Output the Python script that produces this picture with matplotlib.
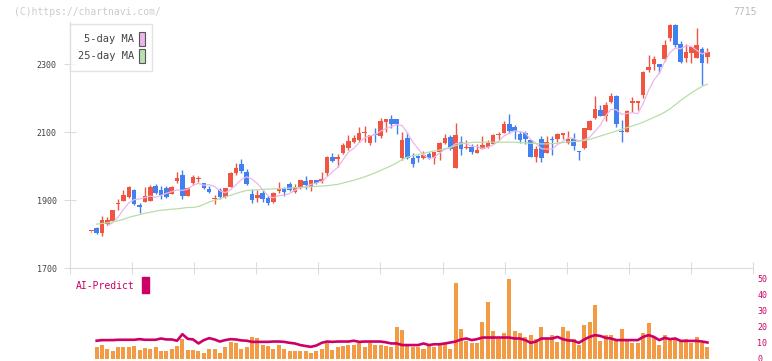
import numpy as np
import pandas as pd
import matplotlib
matplotlib.use("Agg")
import matplotlib.pyplot as plt
from matplotlib.patches import Patch, Rectangle
from matplotlib.transforms import blended_transform_factory

plt.rcParams['font.family'] = ['DejaVu Sans Mono']

# daily candles, oldest first (5/21 .. 11/6)
opens = [1808, 1818, 1804, 1829, 1838, 1888, 1898, 1908, 1929, 1886,
         1895, 1898, 1941, 1929, 1935, 1918, 1957, 1974, 1913, 1949,
         1963, 1949, 1933, 1904, 1929, 1908, 1939, 1980, 2006, 1982,
         1918, 1905, 1921, 1906, 1894, 1927, 1935, 1947, 1923, 1939,
         1955, 1937, 1959, 1957, 1978, 2027, 2021, 2037, 2054, 2071,
         2076, 2097, 2069, 2094, 2089, 2130, 2138, 2138, 2023, 2081,
         2024, 2029, 2024, 2034, 2023, 2042, 2067, 2086, 1995, 2070,
         2054, 2056, 2039, 2050, 2057, 2065, 2092, 2098, 2124, 2116,
         2094, 2098, 2076, 2027, 2078, 2039, 2079, 2078, 2090, 2068,
         2079, 2044, 2052, 2106, 2140, 2165, 2148, 2187, 2207, 2102,
         2101, 2184, 2186, 2209, 2282, 2299, 2299, 2315, 2377, 2415,
         2358, 2318, 2331, 2318, 2344, 2321]
highs = [1810, 1822, 1853, 1849, 1872, 1902, 1929, 1942, 1932, 1892,
         1939, 1945, 1947, 1941, 1941, 1941, 1982, 1988, 1937, 1974,
         1971, 1951, 1940, 1915, 1935, 1936, 1981, 2008, 2020, 1992,
         1931, 1929, 1929, 1912, 1925, 1953, 1937, 1953, 1947, 1959,
         1971, 1960, 1960, 1982, 2028, 2038, 2034, 2068, 2091, 2091,
         2115, 2118, 2091, 2112, 2142, 2139, 2150, 2138, 2099, 2099,
         2037, 2032, 2044, 2040, 2042, 2070, 2093, 2091, 2127, 2088,
         2076, 2065, 2065, 2088, 2076, 2093, 2100, 2133, 2153, 2121,
         2104, 2104, 2077, 2059, 2088, 2088, 2088, 2097, 2097, 2104,
         2096, 2045, 2112, 2135, 2207, 2180, 2187, 2214, 2208, 2135,
         2165, 2204, 2192, 2278, 2327, 2325, 2300, 2371, 2417, 2417,
         2368, 2358, 2351, 2407, 2349, 2348]
lows = [1807, 1800, 1794, 1826, 1837, 1871, 1897, 1905, 1885, 1861,
        1894, 1897, 1918, 1902, 1906, 1917, 1949, 1904, 1912, 1945,
        1953, 1932, 1921, 1888, 1904, 1907, 1938, 1974, 1980, 1943,
        1892, 1895, 1895, 1884, 1891, 1920, 1912, 1927, 1920, 1933,
        1931, 1927, 1947, 1949, 1972, 2011, 1998, 2034, 2047, 2069,
        2071, 2071, 2063, 2071, 2081, 2101, 2113, 2093, 2018, 2021,
        1998, 2011, 2022, 2021, 2005, 2018, 2064, 2047, 1994, 2032,
        2050, 2035, 2038, 2049, 2053, 2064, 2076, 2097, 2098, 2078,
        2068, 2065, 2026, 2013, 2013, 2038, 2032, 2071, 2078, 2066,
        2047, 2018, 2051, 2105, 2139, 2147, 2132, 2186, 2116, 2071,
        2100, 2160, 2165, 2199, 2277, 2282, 2273, 2309, 2368, 2351,
        2304, 2305, 2302, 2317, 2238, 2302]
closes = [1810, 1804, 1841, 1841, 1871, 1892, 1916, 1939, 1888, 1880,
          1912, 1939, 1921, 1916, 1910, 1937, 1965, 1913, 1935, 1967,
          1966, 1935, 1923, 1906, 1908, 1934, 1980, 1994, 1986, 1947,
          1900, 1915, 1904, 1892, 1921, 1931, 1923, 1929, 1939, 1959,
          1943, 1959, 1949, 1963, 2027, 2015, 2027, 2062, 2073, 2083,
          2098, 2099, 2091, 2092, 2133, 2138, 2124, 2124, 2076, 2023,
          2005, 2025, 2032, 2024, 2042, 2067, 2081, 2049, 2091, 2050,
          2056, 2042, 2047, 2062, 2068, 2092, 2094, 2124, 2104, 2104,
          2076, 2078, 2027, 2049, 2024, 2071, 2077, 2094, 2096, 2078,
          2060, 2040, 2111, 2132, 2168, 2148, 2180, 2207, 2124, 2100,
          2162, 2191, 2191, 2277, 2290, 2315, 2292, 2356, 2415, 2356,
          2305, 2334, 2350, 2356, 2302, 2334]

# 25-day MA as drawn on the chart (first day has none)
ma25 = [np.nan, 1829, 1831, 1833, 1836, 1839, 1843, 1849, 1853, 1857,
        1861, 1864, 1867, 1870, 1871, 1873, 1874, 1876, 1878, 1878,
        1881, 1887, 1894, 1899, 1904, 1909, 1914, 1919, 1924, 1928,
        1929, 1930, 1931, 1932, 1933, 1933, 1934, 1935, 1936, 1937,
        1938, 1939, 1940, 1941, 1942, 1944, 1946, 1950, 1954, 1958,
        1963, 1968, 1974, 1980, 1987, 1994, 2001, 2009, 2019, 2026,
        2030, 2034, 2037, 2041, 2044, 2047, 2051, 2055, 2060, 2065,
        2068, 2069, 2070, 2070, 2070, 2070, 2070, 2070, 2070, 2070,
        2069, 2068, 2067, 2066, 2065, 2065, 2066, 2067, 2069, 2071,
        2072, 2073, 2075, 2078, 2083, 2088, 2093, 2098, 2103, 2108,
        2113, 2118, 2123, 2129, 2136, 2143, 2150, 2158, 2168, 2180,
        2193, 2204, 2215, 2225, 2234, 2241]

# lower panel, from the 2nd day on
volume = [7.1, 8.75, 6.25, 5.0, 7.5, 7.5, 7.5, 8.1, 5.6, 6.7,
          6.25, 6.9, 5.0, 4.4, 6.25, 8.1, 11.9, 5.6, 5.6, 5.0,
          3.75, 5.8, 6.25, 3.75, 7.5, 10.6, 10.0, 6.25, 7.5, 13.75,
          13.1, 8.75, 8.1, 6.25, 8.75, 6.25, 4.4, 5.0, 4.4, 4.4,
          3.75, 4.4, 6.25, 9.4, 5.6, 6.9, 8.1, 8.75, 8.75, 9.4,
          6.9, 9.4, 8.75, 8.75, 8.1, 7.5, 19.4, 18.1, 8.75, 7.5,
          7.5, 6.25, 8.1, 7.5, 8.75, 9.4, 6.25, 47.5, 18.75, 11.25,
          9.4, 9.4, 23.1, 35.6, 16.9, 11.9, 16.25, 50.0, 16.9, 16.25,
          13.75, 14.4, 12.5, 19.4, 13.1, 14.4, 10.6, 20.0, 16.9, 12.5,
          8.75, 21.25, 23.1, 33.75, 11.25, 15.0, 15.0, 12.5, 18.75, 11.25,
          9.4, 9.4, 16.25, 21.9, 13.75, 8.75, 15.0, 12.5, 11.9, 11.25,
          12.5, 9.4, 13.75, 10.0, 7.5]
ai_predict = [11.1, 11.5, 11.5, 11.5, 11.7, 11.7, 11.7, 11.7, 12.1, 11.7,
              11.7, 11.7, 12.5, 11.9, 11.9, 11.1, 15.2, 12.3, 11.9, 9.4,
              11.5, 12.7, 11.9, 10.6, 11.5, 12.1, 11.9, 11.3, 11.1, 10.4,
              10.4, 10.4, 10.4, 10.6, 10.6, 10.4, 9.8, 9.4, 8.4, 7.8,
              7.3, 8.1, 9.8, 10.6, 10.4, 10.6, 10.6, 10.6, 11.1, 10.4,
              10.6, 10.6, 10.6, 10.6, 10.1, 9.4, 9.4, 8.4, 8.4, 8.4,
              8.4, 9.4, 8.4, 8.9, 8.9, 9.4, 10.0, 10.6, 11.9, 12.5,
              11.5, 12.1, 13.1, 13.1, 13.1, 13.1, 13.1, 13.1, 12.5, 12.5,
              11.5, 9.8, 10.6, 12.5, 12.5, 12.5, 13.5, 12.1, 11.3, 11.1,
              9.8, 11.9, 13.5, 14.6, 14.1, 12.9, 12.5, 11.5, 11.5, 11.5,
              11.5, 11.5, 13.5, 14.6, 13.5, 11.5, 12.9, 12.1, 12.5, 11.0,
              11.0, 11.0, 11.0, 10.6, 10.0]

date_labels = ['6/11', '6/25', '7/9', '7/24', '8/7', '8/22',
               '9/5', '9/22', '10/7', '10/22', '11/6']
label_days = [15, 25, 35, 45, 55, 65, 75, 85, 95, 105, 115]

up_col = '#f05541'
down_col = '#4180f0'
axis_col = '#dcdcdc'
mag = '#cc0066'

W, H = 772, 361
fig = plt.figure(figsize=(W / 100, H / 100), dpi=100)

x = np.arange(len(closes))
xlim = (-(91.3 - 70) / 5.358, (753 - 91.3) / 5.358)

# price panel
ax = fig.add_axes([70 / W, (H - 268) / H, 683 / W, 246 / H])
ax.set_xlim(*xlim)
ax.set_ylim(1700, 1700 + 246 * 200 / 68)

o = np.array(opens)
c = np.array(closes)
cols = [up_col if cc >= oo else down_col for oo, cc in zip(o, c)]
ax.vlines(x, lows, highs, colors=cols, lw=1, zorder=2)
body = np.maximum(np.abs(c - o), 2.5)
ax.bar(x, body, bottom=np.minimum(o, c), width=0.85, color=cols, zorder=3)

ma5 = pd.Series(closes).rolling(5, min_periods=4).mean()
ax.plot(x, ma5, color='#eab8ea', lw=0.9, zorder=4)
ax.plot(x, ma25, color='#b8dea8', lw=0.9, zorder=4)

for s in ['top', 'right']:
    ax.spines[s].set_visible(False)
for s in ['left', 'bottom']:
    ax.spines[s].set_color(axis_col)
ax.set_yticks([1700, 1900, 2100, 2300])
ax.tick_params(axis='y', direction='inout', length=9, color=axis_col,
               labelsize=6, labelcolor='#444444', pad=5)
ax.set_xticks(np.linspace(xlim[0], xlim[1], 12))
ax.set_xticklabels([])
ax.tick_params(axis='x', direction='inout', length=8, color=axis_col)

tr = blended_transform_factory(ax.transData, fig.transFigure)
for d, lab in zip(label_days, date_labels):
    ax.text(d, 1 - 282.5 / H, lab, transform=tr, ha='center', va='center',
            fontsize=6, color='#444444')

handles = [Patch(facecolor='#ecb6ec', edgecolor='#555555', lw=0.8),
           Patch(facecolor='#bcdeb0', edgecolor='#555555', lw=0.8)]
leg = ax.legend(handles, ['5-day MA', '25-day MA'], loc='upper left',
                bbox_to_anchor=(70 / W, 1 - 24 / H), bbox_transform=fig.transFigure,
                borderaxespad=0, markerfirst=False, fancybox=False,
                handlelength=0.55, handleheight=1.75, handletextpad=0.5,
                labelspacing=0.28, borderpad=0.72, fontsize=7.5,
                labelcolor='#444444')
leg.get_frame().set_edgecolor(axis_col)
leg.get_frame().set_linewidth(1)

# volume / AI-predict panel
vx = x[1:]
ax2 = fig.add_axes([70 / W, 2.5 / H, 683 / W, 80 / H])
ax2.set_xlim(*xlim)
ax2.set_ylim(0, 50)
ax2.bar(vx, volume, width=0.75, color='#f29a44', zorder=2)
ax2.plot(vx, ai_predict, color=mag, lw=1.9, zorder=3)
for s in ax2.spines.values():
    s.set_visible(False)
ax2.set_xticks([])
ax2.yaxis.tick_right()
ax2.set_yticks([0, 10, 20, 30, 40, 50])
ax2.tick_params(axis='y', length=0, pad=3, labelsize=6, labelcolor=mag)

fig.text(76 / W, 1 - 286 / H, 'AI-Predict', color=mag, fontsize=7, va='center')
fig.patches.append(Rectangle((142 / W, 1 - 292.7 / H), 7 / W, 15.4 / H,
                             color=mag, transform=fig.transFigure))

fig.text(14 / W, 1 - 12.3 / H, '(C)https://chartnavi.com/', color='#cccccc',
         fontsize=7, va='center')
fig.text(757 / W, 1 - 12 / H, '7715', color='#bbbbbb', fontsize=7,
         va='center', ha='right')

fig.savefig('out.png', dpi=100)
